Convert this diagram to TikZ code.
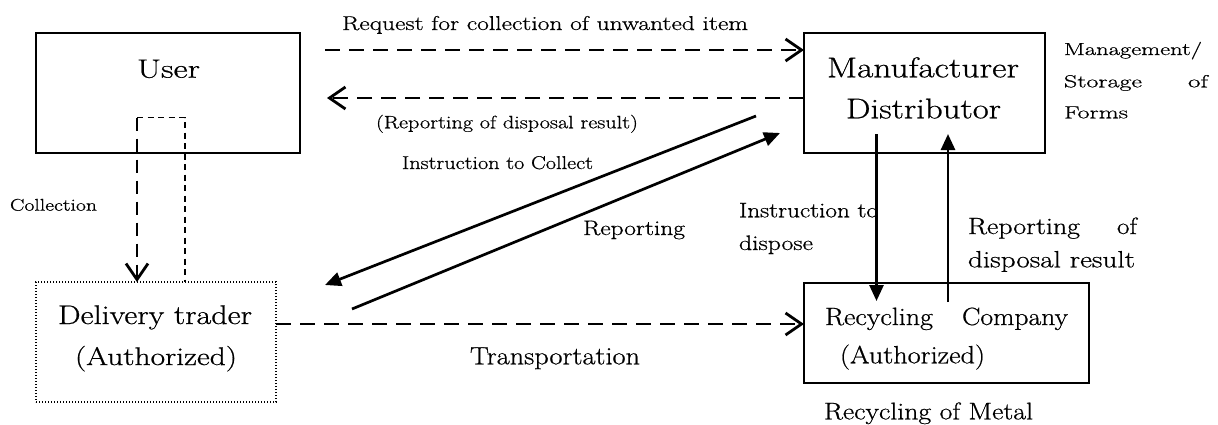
\documentclass[tikz,border=0pt]{standalone}
\usepackage{fontspec}
\setmainfont{Latin Modern Roman}[FakeBold=0.6]
\usepackage{graphicx}
\usetikzlibrary{arrows.meta}
\newcommand\fw[3]{{\fontsize{#2}{#2}\selectfont\resizebox{#1}{\height}{#3}}}
\newcommand\jw[6]{{\fontsize{#2}{#2}\selectfont\makebox[#1][s]{\resizebox{#3}{\height}{#4}\hfill\resizebox{#5}{\height}{#6}}}}
\begin{document}
\begin{tikzpicture}[x=1pt,y=-1pt,
  box/.style={draw,line width=1.9pt,inner sep=0pt,outer sep=0pt},
  dbox/.style={draw,line width=1.4pt,dash pattern=on 1.2pt off 1.8pt,inner sep=0pt,outer sep=0pt},
  txt/.style={inner sep=0pt,outer sep=0pt,anchor=base west},
  dar/.style={line width=2.8pt,dash pattern=on 15pt off 9pt,-{Straight Barb[length=16pt,width=22pt]}},
  cdar/.style={line width=2.8pt,dash pattern=on 13pt off 8pt,-{Straight Barb[length=16pt,width=22pt]}},
  tdash/.style={line width=1.5pt,dash pattern=on 6pt off 4.5pt},
  sar/.style={line width=2.7pt,-{Triangle[length=16pt,width=14pt]}}]
\useasboundingbox (0,0) rectangle (1218,424);
% boxes
\node[box,minimum width=264pt,minimum height=120pt] (user) at (168,93) {};
\node[box,minimum width=241pt,minimum height=120pt] (manu) at (924.5,93) {};
\node[dbox,minimum width=240pt,minimum height=120pt] (deliv) at (156,342) {};
\node[box,minimum width=285pt,minimum height=100pt] (recyc) at (946.5,333) {};
% box texts
\node[txt] (tuser) at (137,77.7) {\fw{63pt}{26.5}{User}};
\node[txt] (tmanu) at (827,77.3) {\fw{192pt}{28.5}{Manufacturer}};
\node[txt] (tdist) at (846,118.3) {\fw{155pt}{28.5}{Distributor}};
\node[txt] (tdel) at (58,324) {\fw{194pt}{27}{Delivery trader}};
\node[txt] (tauth1) at (75,365) {\fw{162pt}{25.5}{(Authorized)}};
\node[txt] (trec) at (825,325) {\jw{243pt}{25}{108pt}{Recycling}{106pt}{Company}};
\node[txt] (tauth2) at (840,363.3) {\fw{145pt}{25}{(Authorized)}};
% side labels
\node[txt] (tmg1) at (1064,55) {\fw{138pt}{17.5}{Management/}};
\node[txt] (tmg2) at (1064,87.3) {\jw{144pt}{17.5}{78pt}{Storage}{20pt}{of}};
\node[txt] (tmg3) at (1064,118.3) {\fw{64pt}{17.5}{Forms}};
\node[txt] (treq) at (342,30) {\fw{406pt}{20}{Request for collection of unwanted item}};
\node[txt] (trep) at (376,128.3) {\fw{262pt}{18}{(Reporting of disposal result)}};
\node[txt] (tinc) at (402,169) {\fw{191pt}{18.5}{Instruction to Collect}};
\node[txt] (tcol) at (10,210.7) {\fw{87pt}{17}{Collection}};
\node[txt] (trpt) at (583,235) {\fw{102pt}{21}{Reporting}};
\node[txt] (ttr) at (470,364.3) {\fw{170pt}{25}{Transportation}};
\node[txt] (tid1) at (739,217.3) {\fw{139pt}{21}{Instruction to}};
\node[txt] (tid2) at (739,250) {\fw{74pt}{21}{dispose}};
\node[txt] (trd1) at (968,234) {\jw{169pt}{23.5}{112pt}{Reporting}{20pt}{of}};
\node[txt] (trd2) at (968,267.3) {\fw{167pt}{23.5}{disposal result}};
\node[txt] (tmet) at (824,419.3) {\fw{209pt}{24}{Recycling of Metal}};
% connector ends
\coordinate (rqs) at (325,50);
\coordinate (rbe) at (327,98);
\coordinate (ctop) at (137,117.5);
\coordinate (ctr) at (185,117.5);
\coordinate (d1s) at (756,116);
\coordinate (d1e) at (325,285);
\coordinate (d2s) at (352,309);
\coordinate (d2e) at (780,133);
\coordinate (trs) at (276,324);
\coordinate (vds) at (876.5,134);
\coordinate (vde) at (876.5,301);
\coordinate (vus) at (948,302);
\coordinate (vue) at (948,134);
% connectors
\draw[dar] (rqs) -- (rqs -| manu.west);
\draw[dar] (rbe -| manu.west) -- (rbe);
\draw[cdar] (ctop) -- (ctop |- deliv.north);
\draw[tdash] (ctop) -- (ctr) -- (ctr |- deliv.north);
\draw[sar] (d1s) -- (d1e);
\draw[sar] (d2s) -- (d2e);
\draw[dar] (trs) -- (trs -| recyc.west);
\draw[sar] (vds) -- (vde);
\draw[sar] (vus) -- (vue);
\end{tikzpicture}
\end{document}
